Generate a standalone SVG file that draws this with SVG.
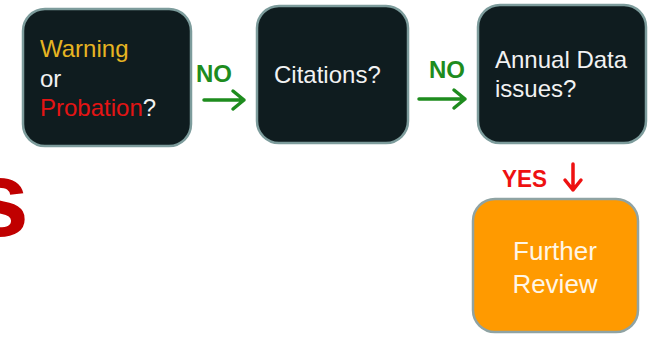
<svg xmlns="http://www.w3.org/2000/svg" width="648" height="337" viewBox="0 0 648 337">
<style>
.box{fill:#0f1c1f;stroke:#7d9c9c;stroke-width:2.5}
.orange{fill:#ff9a00;stroke:#8fa3a3;stroke-width:2.5}
.t{font-family:"Liberation Sans",Arial,sans-serif;font-size:24px;fill:#f2f2f2}
.lbl{font-family:"Liberation Sans",Arial,sans-serif;font-size:23px;font-weight:bold}
.g{stroke:#1e8c1e;stroke-width:3.5;fill:none;stroke-linecap:round;stroke-linejoin:round}
.r{stroke:#ee1111;stroke-width:3.5;fill:none;stroke-linecap:round;stroke-linejoin:round}
</style>
<rect width="648" height="337" fill="#ffffff"/>
<text x="-31" y="236" font-family="Liberation Sans,Arial,sans-serif" font-size="108" font-weight="bold" fill="#c00000">s</text>
<g id="node-warning">
<rect class="box" x="23" y="9" width="168" height="137" rx="22"/>
<text class="t" x="40" y="57" style="fill:#e6b422">Warning</text>
<text class="t" x="40" y="87">or</text>
<text class="t" x="40" y="116"><tspan style="fill:#e41414">Probation</tspan>?</text>
</g>
<g id="node-citations">
<rect class="box" x="257" y="6" width="151" height="137" rx="22"/>
<text class="t" x="274" y="83">Citations?</text>
</g>
<g id="node-annual">
<rect class="box" x="478" y="5" width="168" height="138" rx="22"/>
<text class="t" x="495" y="68">Annual Data</text>
<text class="t" x="495" y="97">issues?</text>
</g>
<g id="node-review">
<rect class="orange" x="473" y="199" width="165" height="133" rx="22"/>
<text class="t" x="555" y="260" text-anchor="middle" style="font-size:26px;fill:#fff6e6">Further</text>
<text class="t" x="555" y="293" text-anchor="middle" style="font-size:26px;fill:#fff6e6">Review</text>
</g>
<g id="connectors">
<text class="lbl" x="196" y="82" fill="#1e8c1e" textLength="36" lengthAdjust="spacingAndGlyphs">NO</text>
<path class="g" d="M204 100 H244 M233 91 L244 100 L233 109"/>
<text class="lbl" x="429" y="78" fill="#1e8c1e" textLength="36" lengthAdjust="spacingAndGlyphs">NO</text>
<path class="g" d="M419 99 H465 M454 90 L465 99 L454 108"/>
<text class="lbl" x="502" y="187" fill="#ee1111" textLength="45" lengthAdjust="spacingAndGlyphs">YES</text>
<path class="r" d="M573 164 V190 M565 180 L573 190 L581 180"/>
</g>
</svg>
